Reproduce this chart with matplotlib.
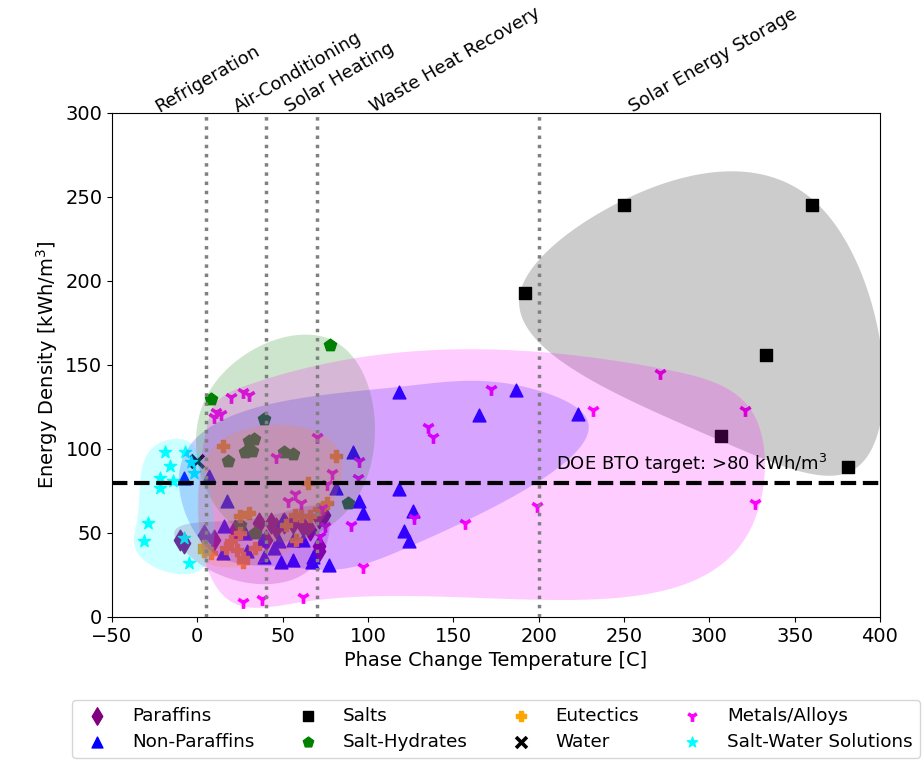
import numpy as np
import matplotlib
matplotlib.use("Agg")
import matplotlib.pyplot as plt

# ---------------- data ----------------
paraffin_x = [-10, -8, 4, 10, 22, 36, 40, 43, 46, 51, 56, 62, 66, 71, 74, 71, 71]
paraffin_y = [46, 44, 49, 46, 52, 56, 46, 56, 53, 56, 56, 54, 52, 59, 61, 42, 39]

nonpar_x = [-8, 7, 17.5, 15.5, 15, 28, 29, 38, 39, 45, 48, 49, 56, 56, 62, 68, 67, 77, 50,
            81, 91, 95, 97, 118, 118, 126.5, 121, 124, 165, 187, 223]
nonpar_y = [83, 84, 69, 54, 38, 50, 39, 46, 36, 41, 45, 33, 46, 34, 46, 36, 33, 31, 58,
            77, 98, 69, 62, 134, 76, 63, 51, 45, 120, 135, 121]

salt_x = [192, 250, 360, 333, 307, 381]
salt_y = [193, 245, 245, 156, 108, 89]

hydrate_x = [78, 8, 39, 30, 33, 28, 32, 18, 51, 56, 88, 34, 25]
hydrate_y = [162, 130, 118, 105, 106, 98, 99, 93, 98, 97, 68, 50, 55]

eutectic_x = [15, 81, 65, 76, 25, 30, 25, 20, 17, 23, 27, 34, 4, 8, 4, 52, 58, 61, 66, 71, 57, 27]
eutectic_y = [102, 96, 80, 68, 60, 62, 50, 45, 41, 40, 33, 41, 39, 38, 42, 55, 46, 60, 60, 64, 61, 35]

water_x = [0]
water_y = [93]

metal_x = [10, 11, 14, 20, 27, 30, 46, 70, 95, 79, 94, 76, 53, 57, 61, 73, 75, 72, 90, 97,
           62, 27, 38, 135, 138, 172, 127, 157, 199, 232, 271, 321, 327]
metal_y = [119, 122, 121, 131, 134, 132, 95, 107, 93, 86, 83, 79, 69, 73, 68, 65, 54, 48, 55, 30,
           12, 9, 11, 113, 107, 136, 59, 56, 66, 123, 145, 123, 68]

saltwater_x = [-19, -7, -16, -22, -22, -14, -4, -2, -29, -31, -8, -5]
saltwater_y = [98, 98, 90, 83, 77, 81, 92, 86, 56, 45, 47, 32]

app_lines = [5, 40, 70, 200]
app_labels = ["Refrigeration", "Air-Conditioning", "Solar Heating",
              "Waste Heat Recovery", "Solar Energy Storage"]
app_label_x = [-22.5, 23.5, 53.5, 103.5, 255.5]
doe_target = 80

groups = [
    ("Paraffins", paraffin_x, paraffin_y, "d", "purple"),
    ("Non-Paraffins", nonpar_x, nonpar_y, "^", "blue"),
    ("Salts", salt_x, salt_y, "s", "black"),
    ("Salt-Hydrates", hydrate_x, hydrate_y, "p", "green"),
    ("Eutectics", eutectic_x, eutectic_y, "P", "orange"),
    ("Water", water_x, water_y, "x", "black"),
    ("Metals/Alloys", metal_x, metal_y, "1", "magenta"),
    ("Salt-Water Solutions", saltwater_x, saltwater_y, "*", "cyan"),
]
blob_pad = {"Salt-Water Solutions": 11}


# ---------------- helpers ----------------
def convex_hull(pts):
    pts = sorted(set(map(tuple, pts)))
    if len(pts) <= 2:
        return np.array(pts)

    def cross(o, a, b):
        return (a[0] - o[0]) * (b[1] - o[1]) - (a[1] - o[1]) * (b[0] - o[0])

    lower = []
    for p in pts:
        while len(lower) >= 2 and cross(lower[-2], lower[-1], p) <= 0:
            lower.pop()
        lower.append(p)
    upper = []
    for p in reversed(pts):
        while len(upper) >= 2 and cross(upper[-2], upper[-1], p) <= 0:
            upper.pop()
        upper.append(p)
    return np.array(lower[:-1] + upper[:-1], dtype=float)


def periodic_spline(P, n=400):
    m = len(P)
    h = np.linalg.norm(np.roll(P, -1, axis=0) - P, axis=1)
    A = np.zeros((m, m))
    R = np.zeros((m, 2))
    for i in range(m):
        hp = h[i - 1]
        hn = h[i]
        A[i, (i - 1) % m] += hp / 6
        A[i, i] += (hp + hn) / 3
        A[i, (i + 1) % m] += hn / 6
        R[i] = (P[(i + 1) % m] - P[i]) / hn - (P[i] - P[i - 1]) / hp
    M = np.linalg.solve(A, R)
    out = []
    for i in range(m):
        j = (i + 1) % m
        hi = h[i]
        t = np.linspace(0, hi, n // m + 2)[:-1]
        a = (hi - t) / hi
        b = t / hi
        seg = (a[:, None] * P[i] + b[:, None] * P[j]
               + ((a ** 3 - a)[:, None] * M[i] + (b ** 3 - b)[:, None] * M[j]) * hi ** 2 / 6)
        out.append(seg)
    return np.vstack(out)


def blob(ax, xs, ys, color, pad=5):
    disp = ax.transData.transform(np.c_[xs, ys])
    H = convex_hull(disp)
    if len(H) < 3:
        return
    m = len(H)
    newH = []
    for i in range(m):
        prev = H[i - 1]
        cur = H[i]
        nxt = H[(i + 1) % m]
        e1 = cur - prev
        e2 = nxt - cur
        n1 = np.array([e1[1], -e1[0]]) / np.linalg.norm(e1)
        n2 = np.array([e2[1], -e2[0]]) / np.linalg.norm(e2)
        nv = n1 + n2
        nv = nv / np.linalg.norm(nv)
        newH.append(cur + pad * nv)
    curve = periodic_spline(np.array(newH))
    data = ax.transData.inverted().transform(curve)
    ax.fill(data[:, 0], data[:, 1], color=color, alpha=0.2, lw=0, zorder=3)


# ---------------- figure ----------------
W, Hpx = 923, 761
fig = plt.figure(figsize=(W / 100, Hpx / 100), dpi=100)
ax = fig.add_axes([112 / W, 1 - 617 / Hpx, 768 / W, 504 / Hpx])
ax.set_xlim(-50, 400)
ax.set_ylim(0, 300)

for label, xs, ys, mk, col in groups:
    if mk in ("1", "x"):
        ax.scatter(xs, ys, marker=mk, c=col, s=85, linewidths=2.6, label=label, zorder=2)
    elif mk == "d":
        ax.scatter(xs, ys, marker=mk, c=col, s=110, label=label, zorder=2)
    else:
        ax.scatter(xs, ys, marker=mk, c=col, s=85, label=label, zorder=2)

for label, xs, ys, mk, col in groups:
    if len(xs) >= 3:
        blob(ax, xs, ys, col, pad=blob_pad.get(label, 5))

for xv in app_lines:
    ax.axvline(xv, color="gray", ls=":", lw=2.5, zorder=4)
ax.axhline(doe_target, color="black", ls="--", lw=3, zorder=5)
ax.text(210, doe_target + 4, "DOE BTO target: >80 kWh/m$^3$", fontsize=13,
        ha="left", va="bottom", zorder=6)

for lab, xv in zip(app_labels, app_label_x):
    ax.text(xv, 300.5, lab, rotation=30, rotation_mode="anchor",
            ha="left", va="baseline", fontsize=13)

ax.set_xticks(np.arange(-50, 401, 50))
ax.set_yticks(np.arange(0, 301, 50))
ax.tick_params(labelsize=14)
ax.set_xlabel("Phase Change Temperature [C]", fontsize=14)
ax.set_ylabel("Energy Density [kWh/m$^3$]", fontsize=14)

ax.legend(loc="upper center", bbox_to_anchor=(0.5, -83 / 504), borderaxespad=0,
          ncol=4, fontsize=13.2, markerscale=0.85, borderpad=0.38,
          labelspacing=0.42, handletextpad=0.9, columnspacing=1.9)

fig.savefig("out.png", dpi=100)
